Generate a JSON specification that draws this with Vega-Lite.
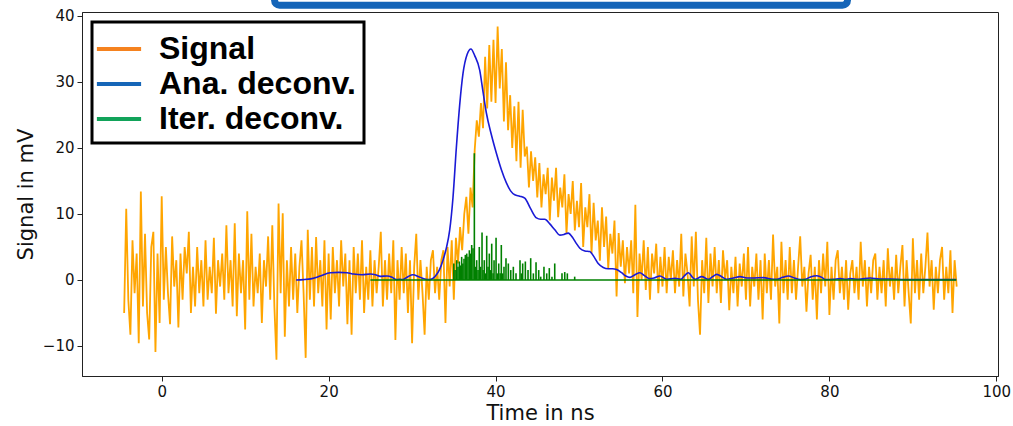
{
"$schema":"https://vega.github.io/schema/vega-lite/v6.json",
"width":916,"height":364,
"autosize":{"type":"none"},
"padding":{"left":82,"top":12,"right":15,"bottom":50},
"background":"white",
"config":{
"view":{"stroke":"#222","strokeWidth":1},
"axis":{"grid":false,"domainColor":"#222","tickColor":"#222","labelFont":"DejaVu Sans","labelFontSize":15,"labelColor":"#111","titleFont":"DejaVu Sans","titleFontWeight":"normal","titleColor":"#111","tickSize":5,"labelPadding":3},
"legend":{"orient":"top-left","offset":10,"padding":8,"strokeColor":"#000","strokeWidth":3,"fillColor":"#fff","labelFont":"Liberation Sans","labelFontSize":32,"labelFontWeight":"bold","labelColor":"#000","symbolType":"M-1.3,0L1.3,0","symbolSize":1156,"symbolStrokeWidth":4,"labelOffset":21,"rowPadding":0,"labelLimit":400}
},
"datasets":{
"signal":[
{"t":-4.5,"v":-5},{"t":-4.25,"v":10.8},{"t":-4,"v":-3},{"t":-3.75,"v":-8.3},{"t":-3.5,"v":6},{"t":-3.25,"v":-2},{"t":-3,"v":4},{"t":-2.75,"v":-9.6},{"t":-2.5,"v":13.4},{"t":-2.25,"v":-4},{"t":-2,"v":7},{"t":-1.75,"v":-5},{"t":-1.5,"v":-9},{"t":-1.25,"v":5},{"t":-1,"v":7.3},{"t":-0.75,"v":-10.9},{"t":-0.5,"v":4},{"t":-0.25,"v":-6.5},{"t":0,"v":12.7},{"t":0.25,"v":-3},
{"t":0.5,"v":5},{"t":0.75,"v":-2},{"t":1,"v":-6.7},{"t":1.25,"v":6.6},{"t":1.5,"v":-1},{"t":1.75,"v":3},{"t":2,"v":-7.2},{"t":2.25,"v":4},{"t":2.5,"v":-3},{"t":2.75,"v":5},{"t":3,"v":1},{"t":3.25,"v":7.3},{"t":3.5,"v":-5},{"t":3.75,"v":2},{"t":4,"v":-4},{"t":4.25,"v":5},{"t":4.5,"v":-2},{"t":4.75,"v":3},{"t":5,"v":-4},{"t":5.25,"v":6},
{"t":5.5,"v":-3},{"t":5.75,"v":2},{"t":6,"v":-2},{"t":6.25,"v":6.4},{"t":6.5,"v":-5.1},{"t":6.75,"v":3},{"t":7,"v":-1},{"t":7.25,"v":4},{"t":7.5,"v":-3},{"t":7.75,"v":8.3},{"t":8,"v":-2},{"t":8.25,"v":3},{"t":8.5,"v":-4},{"t":8.75,"v":8.6},{"t":9,"v":-5.5},{"t":9.25,"v":4},{"t":9.5,"v":-2},{"t":9.75,"v":3},{"t":10,"v":-7.5},{"t":10.25,"v":10.4},
{"t":10.5,"v":-3},{"t":10.75,"v":7},{"t":11,"v":-4},{"t":11.25,"v":2},{"t":11.5,"v":-2},{"t":11.75,"v":4},{"t":12,"v":-6.5},{"t":12.25,"v":3},{"t":12.5,"v":-1},{"t":12.75,"v":6.6},{"t":13,"v":-3},{"t":13.25,"v":8.3},{"t":13.5,"v":-4},{"t":13.75,"v":-12.1},{"t":14,"v":11.6},{"t":14.25,"v":-2},{"t":14.5,"v":10.1},{"t":14.75,"v":-8.6},{"t":15,"v":3},{"t":15.25,"v":-4},
{"t":15.5,"v":5},{"t":15.75,"v":-3},{"t":16,"v":4},{"t":16.25,"v":-5},{"t":16.5,"v":2},{"t":16.75,"v":6},{"t":17,"v":-2},{"t":17.25,"v":-11.8},{"t":17.5,"v":7.6},{"t":17.75,"v":-3},{"t":18,"v":5},{"t":18.25,"v":-4},{"t":18.5,"v":6.5},{"t":18.75,"v":-2},{"t":19,"v":3},{"t":19.25,"v":-4},{"t":19.5,"v":6},{"t":19.75,"v":-7.5},{"t":20,"v":4},{"t":20.25,"v":-6},
{"t":20.5,"v":5},{"t":20.75,"v":-2},{"t":21,"v":3},{"t":21.25,"v":-4},{"t":21.5,"v":6},{"t":21.75,"v":-1},{"t":22,"v":4},{"t":22.25,"v":-6.7},{"t":22.5,"v":3},{"t":22.75,"v":-8.3},{"t":23,"v":5},{"t":23.25,"v":-2},{"t":23.5,"v":4},{"t":23.75,"v":-3},{"t":24,"v":6},{"t":24.25,"v":-5},{"t":24.5,"v":2},{"t":24.75,"v":-3},{"t":25,"v":4.5},{"t":25.25,"v":-4},
{"t":25.5,"v":3},{"t":25.75,"v":-2},{"t":26,"v":2},{"t":26.25,"v":7.3},{"t":26.5,"v":-4},{"t":26.75,"v":3},{"t":27,"v":-3},{"t":27.25,"v":4},{"t":27.5,"v":-2},{"t":27.75,"v":6},{"t":28,"v":-9.1},{"t":28.25,"v":3},{"t":28.5,"v":-3},{"t":28.75,"v":5},{"t":29,"v":-2},{"t":29.25,"v":4},{"t":29.5,"v":-5},{"t":29.75,"v":3},{"t":30,"v":-9.6},{"t":30.25,"v":2},
{"t":30.5,"v":7},{"t":30.75,"v":-3},{"t":31,"v":3},{"t":31.25,"v":-2},{"t":31.5,"v":-8.3},{"t":31.75,"v":2},{"t":32,"v":-3},{"t":32.25,"v":3},{"t":32.5,"v":4.5},{"t":32.75,"v":-2},{"t":33,"v":2},{"t":33.25,"v":-3},{"t":33.5,"v":3},{"t":33.75,"v":4.5},{"t":34,"v":-6.5},{"t":34.25,"v":5},{"t":34.5,"v":-1},{"t":34.75,"v":6},{"t":35,"v":-3},{"t":35.25,"v":6.4},
{"t":35.5,"v":2.5},{"t":35.75,"v":8},{"t":36,"v":4.5},{"t":36.25,"v":10},{"t":36.5,"v":12.6},{"t":36.75,"v":7},{"t":37,"v":14},{"t":37.25,"v":11},{"t":37.5,"v":19.7},{"t":37.75,"v":24.2},{"t":38,"v":21.7},{"t":38.25,"v":26.8},{"t":38.5,"v":23},{"t":38.75,"v":33.8},{"t":39,"v":26},{"t":39.25,"v":35.6},{"t":39.5,"v":27},{"t":39.75,"v":36.4},{"t":40,"v":26.8},{"t":40.25,"v":38.4},
{"t":40.5,"v":29},{"t":40.75,"v":35},{"t":41,"v":24},{"t":41.25,"v":33},{"t":41.5,"v":22.7},{"t":41.75,"v":28},{"t":42,"v":20},{"t":42.25,"v":26.3},{"t":42.5,"v":18},{"t":42.75,"v":27},{"t":43,"v":17},{"t":43.25,"v":25.8},{"t":43.5,"v":18.7},{"t":43.75,"v":20.2},{"t":44,"v":14},{"t":44.25,"v":19.5},{"t":44.5,"v":15},{"t":44.75,"v":18.6},{"t":45,"v":12.5},{"t":45.25,"v":17.7},
{"t":45.5,"v":11},{"t":45.75,"v":16},{"t":46,"v":13},{"t":46.25,"v":17},{"t":46.5,"v":9},{"t":46.75,"v":15.5},{"t":47,"v":12},{"t":47.25,"v":17},{"t":47.5,"v":9.5},{"t":47.75,"v":14},{"t":48,"v":11},{"t":48.25,"v":16},{"t":48.5,"v":7},{"t":48.75,"v":13},{"t":49,"v":10},{"t":49.25,"v":15},{"t":49.5,"v":7.5},{"t":49.75,"v":12},{"t":50,"v":8},{"t":50.25,"v":14.7},
{"t":50.5,"v":5},{"t":50.75,"v":11},{"t":51,"v":8},{"t":51.25,"v":13},{"t":51.5,"v":4},{"t":51.75,"v":11.7},{"t":52,"v":6},{"t":52.25,"v":9},{"t":52.5,"v":2.9},{"t":52.75,"v":11},{"t":53,"v":5},{"t":53.25,"v":9.6},{"t":53.5,"v":1.8},{"t":53.75,"v":7},{"t":54,"v":4},{"t":54.25,"v":9},{"t":54.5,"v":-2.5},{"t":54.75,"v":7.1},{"t":55,"v":2},{"t":55.25,"v":6},
{"t":55.5,"v":-0.5},{"t":55.75,"v":5},{"t":56,"v":1},{"t":56.25,"v":6},{"t":56.5,"v":-2},{"t":56.75,"v":11.4},{"t":57,"v":-5.6},{"t":57.25,"v":4},{"t":57.5,"v":0},{"t":57.75,"v":6},{"t":58,"v":-1.5},{"t":58.25,"v":5},{"t":58.5,"v":-3},{"t":58.75,"v":4},{"t":59,"v":1},{"t":59.25,"v":5.5},{"t":59.5,"v":-2},{"t":59.75,"v":3.5},{"t":60,"v":-1},{"t":60.25,"v":5},
{"t":60.5,"v":-2},{"t":60.75,"v":3.5},{"t":61,"v":0},{"t":61.25,"v":4.5},{"t":61.5,"v":-2},{"t":61.75,"v":3},{"t":62,"v":-1},{"t":62.25,"v":7},{"t":62.5,"v":-2.5},{"t":62.75,"v":4},{"t":63,"v":1},{"t":63.25,"v":-4},{"t":63.5,"v":6.6},{"t":63.75,"v":-1},{"t":64,"v":7.3},{"t":64.25,"v":-3},{"t":64.5,"v":-8.3},{"t":64.75,"v":3},{"t":65,"v":-2},{"t":65.25,"v":6.4},
{"t":65.5,"v":-3.5},{"t":65.75,"v":4},{"t":66,"v":-1},{"t":66.25,"v":5},{"t":66.5,"v":-2},{"t":66.75,"v":3},{"t":67,"v":-3.5},{"t":67.25,"v":4.5},{"t":67.5,"v":0},{"t":67.75,"v":3},{"t":68,"v":-4.6},{"t":68.25,"v":2},{"t":68.5,"v":-2},{"t":68.75,"v":3.5},{"t":69,"v":-4},{"t":69.25,"v":2.5},{"t":69.5,"v":-1},{"t":69.75,"v":4},{"t":70,"v":-3},{"t":70.25,"v":5},
{"t":70.5,"v":-4},{"t":70.75,"v":2},{"t":71,"v":-1},{"t":71.25,"v":4},{"t":71.5,"v":-3},{"t":71.75,"v":3},{"t":72,"v":-6},{"t":72.25,"v":4},{"t":72.5,"v":-2},{"t":72.75,"v":3},{"t":73,"v":-3},{"t":73.25,"v":6.9},{"t":73.5,"v":-1},{"t":73.75,"v":2},{"t":74,"v":-6.6},{"t":74.25,"v":5.8},{"t":74.5,"v":-2},{"t":74.75,"v":3},{"t":75,"v":-3},{"t":75.25,"v":5},
{"t":75.5,"v":-2},{"t":75.75,"v":3},{"t":76,"v":-3},{"t":76.25,"v":2},{"t":76.5,"v":6.6},{"t":76.75,"v":-1},{"t":77,"v":2},{"t":77.25,"v":-4.8},{"t":77.5,"v":1},{"t":77.75,"v":3.8},{"t":78,"v":-3},{"t":78.25,"v":2},{"t":78.5,"v":-6},{"t":78.75,"v":3},{"t":79,"v":-2},{"t":79.25,"v":4},{"t":79.5,"v":-1},{"t":79.75,"v":5.8},{"t":80,"v":-5.3},{"t":80.25,"v":2},
{"t":80.5,"v":-3},{"t":80.75,"v":3},{"t":81,"v":4.5},{"t":81.25,"v":-2},{"t":81.5,"v":2},{"t":81.75,"v":-3},{"t":82,"v":3},{"t":82.25,"v":-4.5},{"t":82.5,"v":1},{"t":82.75,"v":3},{"t":83,"v":-2},{"t":83.25,"v":2},{"t":83.5,"v":-3},{"t":83.75,"v":5.8},{"t":84,"v":-1},{"t":84.25,"v":3},{"t":84.5,"v":-4},{"t":84.75,"v":2},{"t":85,"v":-2},{"t":85.25,"v":3},
{"t":85.5,"v":4},{"t":85.75,"v":-3},{"t":86,"v":2},{"t":86.25,"v":-2},{"t":86.5,"v":3},{"t":86.75,"v":-4},{"t":87,"v":4.8},{"t":87.25,"v":-1},{"t":87.5,"v":2},{"t":87.75,"v":-3},{"t":88,"v":3.8},{"t":88.25,"v":-2},{"t":88.5,"v":2},{"t":88.75,"v":5.3},{"t":89,"v":-4},{"t":89.25,"v":3},{"t":89.5,"v":-2},{"t":89.75,"v":-6.6},{"t":90,"v":6.3},{"t":90.25,"v":-2},
{"t":90.5,"v":3},{"t":90.75,"v":-3},{"t":91,"v":4},{"t":91.25,"v":-2},{"t":91.5,"v":2},{"t":91.75,"v":7.2},{"t":92,"v":-1},{"t":92.25,"v":3},{"t":92.5,"v":-4.5},{"t":92.75,"v":2},{"t":93,"v":-2},{"t":93.25,"v":3},{"t":93.5,"v":5},{"t":93.75,"v":-3},{"t":94,"v":2},{"t":94.25,"v":-2},{"t":94.5,"v":4.5},{"t":94.75,"v":-5},{"t":95,"v":3},{"t":95.25,"v":-1}
],
"ana":[
{"t":16.1,"v":0},{"t":17,"v":0.05},{"t":18,"v":0.2},{"t":19,"v":0.6},{"t":20.2,"v":1.1},{"t":21.2,"v":1.15},{"t":22.2,"v":1.1},{"t":23,"v":0.9},{"t":24,"v":0.8},{"t":25,"v":0.9},{"t":25.6,"v":0.8},{"t":26.2,"v":0.55},{"t":27,"v":0.6},{"t":27.6,"v":0.4},{"t":28.1,"v":0.05},{"t":28.5,"v":0.1},{"t":28.9,"v":0.05},{"t":29.5,"v":0.5},{"t":30.1,"v":0.8},{"t":30.8,"v":0.5},{"t":31.5,"v":0.15},{"t":32.1,"v":0.05},{"t":32.8,"v":0.6},{"t":33.3,"v":1.6},{"t":33.7,"v":3},{"t":34.1,"v":4.8},{"t":34.5,"v":7.5},{"t":34.9,"v":12.5},{"t":35.3,"v":20},{"t":35.7,"v":26.5},{"t":36.1,"v":31.3},{"t":36.6,"v":34.2},{"t":37.05,"v":35},{"t":37.5,"v":34},{"t":38.1,"v":31.8},{"t":38.5,"v":28.5},{"t":38.9,"v":25.3},{"t":39.5,"v":22},{"t":40.1,"v":19.2},{"t":40.7,"v":16.7},{"t":41.3,"v":14.7},{"t":41.8,"v":13.5},{"t":42.3,"v":12.9},{"t":42.9,"v":12.7},{"t":43.5,"v":12.4},{"t":44.2,"v":10.8},{"t":44.9,"v":9.4},{"t":45.4,"v":9.2},{"t":45.9,"v":9.2},{"t":46.5,"v":8.5},{"t":47.1,"v":7.6},{"t":47.7,"v":6.8},{"t":48.2,"v":6.9},{"t":48.7,"v":7.1},{"t":49.3,"v":6.3},{"t":49.7,"v":5.5},{"t":50.1,"v":4.8},{"t":50.7,"v":4.4},{"t":51.3,"v":4.3},{"t":51.8,"v":3.5},{"t":52.3,"v":2.5},{"t":52.9,"v":1.9},{"t":53.5,"v":1.7},{"t":54,"v":1.7},{"t":54.5,"v":1.6},{"t":55.1,"v":1.1},{"t":55.6,"v":0.6},{"t":56.1,"v":0.4},{"t":56.7,"v":0.8},{"t":57.3,"v":1.1},{"t":57.8,"v":0.7},{"t":58.4,"v":0.2},{"t":59,"v":0.3},{"t":59.7,"v":0.6},{"t":60.5,"v":0.1},{"t":61.5,"v":0.25},{"t":62.2,"v":0.1},{"t":62.6,"v":0.6},{"t":63.1,"v":1.1},{"t":63.6,"v":0.4},{"t":63.9,"v":0.1},{"t":64.7,"v":0.5},{"t":65.5,"v":0.1},{"t":66,"v":0.5},{"t":66.5,"v":0.85},{"t":67.1,"v":0.5},{"t":67.7,"v":0.1},{"t":68.5,"v":0.3},{"t":69.3,"v":0.5},{"t":70.1,"v":0.3},{"t":70.9,"v":0.3},{"t":72.1,"v":0.35},{"t":73.3,"v":0.1},{"t":73.7,"v":0.1},{"t":74.4,"v":0.4},{"t":75.1,"v":0.6},{"t":75.8,"v":0.3},{"t":76.5,"v":0.05},{"t":77.1,"v":0.1},{"t":77.8,"v":0.5},{"t":78.5,"v":0.65},{"t":79.1,"v":0.4},{"t":79.5,"v":0.05},{"t":80.5,"v":0.1},{"t":81.3,"v":0.2},{"t":82,"v":0.1},{"t":82.5,"v":0.2},{"t":83.5,"v":0.1},{"t":84.9,"v":0.3},{"t":86,"v":0.15},{"t":87.3,"v":0.15},{"t":89,"v":0.05},{"t":91,"v":0.05},{"t":93,"v":0.05},{"t":95.2,"v":0.05}
],
"iterbase":[{"t":25,"v":0},{"t":95.2,"v":0}],
"iterspikes":[
{"t":35,"v":2.5},{"t":35.15,"v":1.5},{"t":35.35,"v":3},{"t":35.5,"v":2},{"t":35.66,"v":2.8},{"t":35.8,"v":2.2},{"t":35.94,"v":3.5},{"t":36.08,"v":2.5},{"t":36.22,"v":3.2},{"t":36.38,"v":3.8},{"t":36.55,"v":4},{"t":36.7,"v":3.5},{"t":36.86,"v":4.5},{"t":37,"v":4},{"t":37.14,"v":5.3},{"t":37.3,"v":4.8},{"t":37.46,"v":19.2},{"t":37.6,"v":2},{"t":37.74,"v":3},{"t":37.9,"v":1.5},{"t":38.05,"v":5},{"t":38.2,"v":2},{"t":38.38,"v":7.2},{"t":38.5,"v":1.5},{"t":38.65,"v":3},{"t":38.8,"v":1},{"t":38.94,"v":6.7},{"t":39.1,"v":2},{"t":39.25,"v":4},{"t":39.4,"v":1.5},{"t":39.54,"v":5.5},{"t":39.7,"v":1},{"t":39.82,"v":3},{"t":40.06,"v":6.4},{"t":40.2,"v":1},{"t":40.38,"v":2.5},{"t":40.55,"v":1},{"t":40.69,"v":5.3},{"t":40.85,"v":1},{"t":41.01,"v":2},{"t":41.25,"v":3.3},{"t":41.53,"v":2.5},{"t":41.82,"v":1.5},{"t":42.13,"v":2},{"t":42.45,"v":1},{"t":42.93,"v":3},{"t":43.1,"v":1},{"t":43.25,"v":2.5},{"t":43.57,"v":2.8},{"t":43.89,"v":1.5},{"t":44.21,"v":3.3},{"t":44.53,"v":1},{"t":44.85,"v":2.7},{"t":45.17,"v":1.5},{"t":45.41,"v":0.5},{"t":45.8,"v":2},{"t":46.13,"v":1},{"t":46.44,"v":1.8},{"t":46.76,"v":0.5},{"t":47.09,"v":2.5},{"t":47.96,"v":1},{"t":48.29,"v":1.2},{"t":48.6,"v":1},{"t":49.48,"v":0.5}
],
"legendrows":[{"s":"Signal","t":-60,"v":0},{"s":"Ana. deconv.","t":-60,"v":0},{"s":"Iter. deconv.","t":-60,"v":0}],
"box":[{"t":13.52,"t2":82.17,"v":41.63,"v2":46}]
},
"encoding":{
"x":{"field":"t","type":"quantitative","scale":{"domain":[-9.55,100.2],"nice":false,"zero":false},"axis":{"values":[0,20,40,60,80,100],"title":"Time in ns","titleFontSize":21,"titlePadding":3}},
"y":{"field":"v","type":"quantitative","scale":{"domain":[-14.55,40.6],"nice":false,"zero":false},"axis":{"values":[-10,0,10,20,30,40],"title":"Signal in mV","titleFontSize":21,"titlePadding":6}}
},
"layer":[
{"data":{"name":"signal"},"mark":{"type":"line","color":"#ffa500","strokeWidth":1.8,"clip":true}},
{"data":{"name":"ana"},"mark":{"type":"line","color":"#1a1ad6","strokeWidth":1.6,"interpolate":"monotone","clip":true}},
{"data":{"name":"iterspikes"},"mark":{"type":"rule","color":"#008000","strokeWidth":1.6,"clip":true},"encoding":{"y2":{"datum":0}}},
{"data":{"name":"iterbase"},"mark":{"type":"line","color":"#008000","strokeWidth":1.6,"clip":true}},
{"data":{"name":"legendrows"},"mark":{"type":"line","strokeWidth":4,"clip":true},"encoding":{"color":{"field":"s","type":"nominal","scale":{"domain":["Signal","Ana. deconv.","Iter. deconv."],"range":["#f5821f","#1666b8","#12a35a"]},"legend":{"title":null}}}},
{"data":{"name":"box"},"mark":{"type":"rect","fill":"#fff","stroke":"#1565b8","strokeWidth":7,"cornerRadius":5},"encoding":{"x2":{"field":"t2"},"y2":{"field":"v2"}}}
]
}
